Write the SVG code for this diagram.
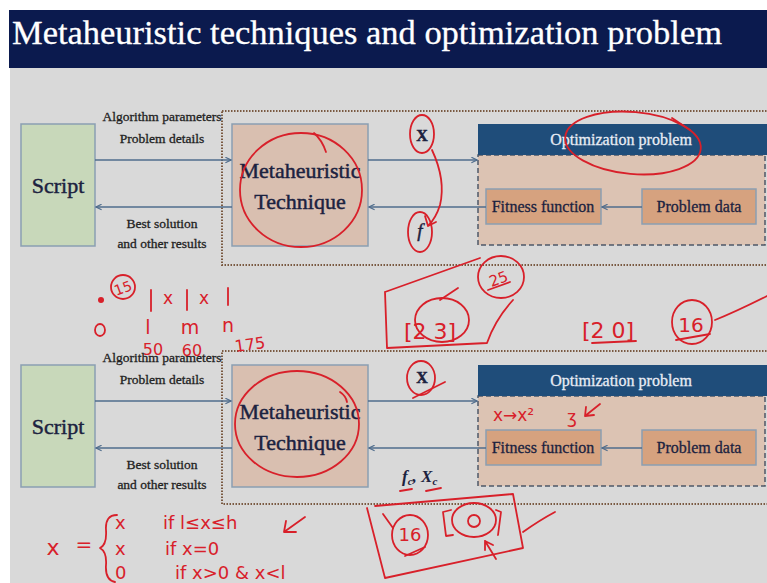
<svg xmlns="http://www.w3.org/2000/svg" width="767" height="583" viewBox="0 0 767 583">
<style>
.bg{fill:#d9d9d9}
.box{stroke:#8a9fb2;stroke-width:1.5}
.scr{fill:#c8d8ba}
.meta{fill:#d9bfb0}
.body{fill:#dcc3b3;stroke:#4e5868;stroke-width:1.5;stroke-dasharray:5 3}
.ff{fill:#d6a27f;stroke:#8a9fb2;stroke-width:1.5}
.hdr{fill:#1f4d7a}
.dot{fill:none;stroke:#7a5a42;stroke-width:2;stroke-dasharray:1.5 1.5}
.t{font-family:"Liberation Serif",serif;fill:#1c2240;text-anchor:middle;stroke:#1c2240;stroke-width:0.45}
.big{font-size:22px}
.lbl{font-size:13.5px;fill:#222;stroke:#222;stroke-width:0.3}
.mid{font-size:16px;stroke-width:0.3}
.wt{fill:#e8ecf4;stroke:#e8ecf4}
.con{stroke:#4f6c8c;stroke-width:1.6;fill:none}
.red{fill:none;stroke:#d8202a;stroke-width:1.8;stroke-linecap:round;stroke-linejoin:round}
.rt{font-family:"DejaVu Sans",sans-serif;fill:#d8202a}
</style>
<defs>
<marker id="ah" viewBox="0 0 10 10" refX="9" refY="5" markerWidth="7" markerHeight="7" orient="auto" markerUnits="userSpaceOnUse">
<path d="M1,1 L9,5 L1,9" fill="none" stroke="#4f6c8c" stroke-width="1.6"/>
</marker>
</defs>
<rect width="767" height="583" fill="#ffffff"/>
<rect class="bg" x="10" y="68" width="757" height="515"/>
<rect x="9" y="10" width="758" height="58" fill="#0b1a4e"/>
<text x="12" y="44" font-family="Liberation Serif,serif" font-size="34" fill="#ffffff" stroke="#ffffff" stroke-width="0.3" textLength="710" lengthAdjust="spacingAndGlyphs">Metaheuristic techniques and optimization problem</text>

<!-- top diagram -->
<rect class="dot" x="222" y="111" width="600" height="154"/>
<g id="script1"><rect class="box scr" x="21" y="124" width="74" height="122"/><text class="t big" x="58" y="193">Script</text></g>
<g id="meta1"><rect class="box meta" x="232" y="124" width="136" height="122"/><text class="t big" x="300" y="178">Metaheuristic</text><text class="t big" x="300" y="209">Technique</text></g>
<g id="opt1"><rect class="body" x="478" y="155" width="287" height="90"/><rect class="hdr" x="478" y="124" width="289" height="31"/><text class="t mid wt" x="621" y="145">Optimization problem</text></g>
<g id="fitness1"><rect class="ff" x="486" y="189" width="115" height="35"/><text class="t mid" x="543" y="212">Fitness function</text></g>
<g id="pdata1"><rect class="ff" x="642" y="189" width="114" height="35"/><text class="t mid" x="699" y="212">Problem data</text></g>
<g id="labels1">
<text class="t lbl" x="162" y="121">Algorithm parameters</text>
<text class="t lbl" x="162" y="143">Problem details</text>
<text class="t lbl" x="162" y="228">Best solution</text>
<text class="t lbl" x="162" y="248">and other results</text>
<text class="t" x="422" y="141" font-size="16" font-weight="bold">X</text>
<text class="t" x="420" y="237" font-size="19" font-style="italic">f</text>
</g>

<!-- bottom diagram -->
<rect class="dot" x="222" y="351" width="600" height="153"/>
<g id="script2"><rect class="box scr" x="21" y="365" width="74" height="122"/><text class="t big" x="58" y="434">Script</text></g>
<g id="meta2"><rect class="box meta" x="232" y="365" width="136" height="122"/><text class="t big" x="300" y="419">Metaheuristic</text><text class="t big" x="300" y="450">Technique</text></g>
<g id="opt2"><rect class="body" x="478" y="396" width="287" height="90"/><rect class="hdr" x="478" y="365" width="289" height="31"/><text class="t mid wt" x="621" y="386">Optimization problem</text></g>
<g id="fitness2"><rect class="ff" x="486" y="430" width="115" height="35"/><text class="t mid" x="543" y="453">Fitness function</text></g>
<g id="pdata2"><rect class="ff" x="642" y="430" width="114" height="35"/><text class="t mid" x="699" y="453">Problem data</text></g>
<g id="labels2">
<text class="t lbl" x="162" y="362">Algorithm parameters</text>
<text class="t lbl" x="162" y="384">Problem details</text>
<text class="t lbl" x="162" y="469">Best solution</text>
<text class="t lbl" x="162" y="489">and other results</text>
<text class="t" x="422" y="383" font-size="16" font-weight="bold">X</text>
<text x="402" y="482" font-family="Liberation Serif,serif" font-size="17" font-style="italic" font-weight="bold" fill="#1c2240">f<tspan font-size="11" dy="3">c</tspan><tspan dy="-3">, X</tspan><tspan font-size="11" dy="3">c</tspan></text>
</g>

<g id="connectors">
<path class="con" d="M95,160 H231" marker-end="url(#ah)"/>
<path class="con" d="M232,207 H96" marker-end="url(#ah)"/>
<path class="con" d="M368,160 H477" marker-end="url(#ah)"/>
<path class="con" d="M486,207 H369" marker-end="url(#ah)"/>
<path class="con" d="M642,207 H602" marker-end="url(#ah)"/>
<path class="con" d="M95,401 H231" marker-end="url(#ah)"/>
<path class="con" d="M232,448 H96" marker-end="url(#ah)"/>
<path class="con" d="M368,401 H477" marker-end="url(#ah)"/>
<path class="con" d="M486,448 H369" marker-end="url(#ah)"/>
<path class="con" d="M642,448 H602" marker-end="url(#ah)"/>
</g>

<g id="annotations">
<!-- top diagram circles -->
<ellipse class="red" cx="301" cy="190" rx="61" ry="57"/>
<path class="red" d="M314,133 Q322,140 326,152"/>
<ellipse class="red" cx="633" cy="143" rx="68" ry="31" transform="rotate(5 633 143)"/>
<path class="red" d="M672,118 L690,130"/>
<ellipse class="red" cx="422" cy="134" rx="12" ry="19"/>
<ellipse class="red" cx="420" cy="232" rx="12" ry="20"/>
<path class="red" d="M432,150 Q446,180 440,205 Q436,218 428,226 M428,226 L425,216 M428,226 L436,222"/>
<!-- middle notes -->
<circle class="red" cx="123" cy="287" r="12"/>
<text class="rt" x="123" y="293" font-size="14" text-anchor="middle" transform="rotate(-20 123 288)">15</text>
<circle cx="101" cy="300" r="3" fill="#d8202a"/>
<path class="red" d="M151,290 V311 M187,290 V310 M228,288 V305"/>
<text class="rt" x="168" y="304" font-size="17" text-anchor="middle">x</text>
<text class="rt" x="204" y="304" font-size="17" text-anchor="middle">x</text>
<ellipse class="red" cx="100" cy="330" rx="5" ry="6"/>
<text class="rt" font-size="19" text-anchor="middle"><tspan x="148" y="334">l</tspan><tspan x="190" y="334">m</tspan><tspan x="228" y="332">n</tspan></text>
<text class="rt" x="250" y="350" font-size="16" text-anchor="middle" transform="rotate(-8 250 345)">175</text>
<text class="rt" x="153" y="355" font-size="16" text-anchor="middle">50</text>
<text class="rt" x="192" y="356" font-size="16" text-anchor="middle">60</text>
<path class="red" d="M385,292 L480,258 M387,348 L385,292 M387,348 L487,343 Q495,320 513,300"/>
<ellipse class="red" cx="501" cy="277" rx="23" ry="21"/>
<text class="rt" x="499" y="284" font-size="15" text-anchor="middle" transform="rotate(-20 499 280)">25</text>
<path class="red" d="M488,290 L510,282"/>
<text class="rt" x="430" y="339" font-size="22" text-anchor="middle">[2 3]</text>
<ellipse class="red" cx="442" cy="320" rx="27" ry="22"/>
<path class="red" d="M440,300 L458,288"/>
<text class="rt" x="608" y="338" font-size="22" text-anchor="middle">[2 0]</text>
<path class="red" d="M592,343 L636,341"/>
<ellipse class="red" cx="692" cy="322" rx="20" ry="22"/>
<text class="rt" x="691" y="332" font-size="20" text-anchor="middle">16</text>
<path class="red" d="M676,340 L710,334 M715,320 Q735,312 767,296"/>
<!-- bottom diagram -->
<ellipse class="red" cx="297" cy="424" rx="62" ry="53"/>
<path class="red" d="M340,392 Q346,396 347,402"/>
<ellipse class="red" cx="421" cy="378" rx="14" ry="17"/>
<path class="red" d="M413,398 L445,382" stroke-width="3.5"/>
<text class="rt" x="493" y="421" font-size="17">x→x²</text>
<text class="rt" x="567" y="423" font-size="17">ʒ</text>
<path class="red" d="M600,404 L585,416 M585,416 L586,407 M585,416 L594,415"/>
<path class="red" d="M400,491 L412,489 M426,491 L441,488"/>
<path class="red" d="M375,506 L513,494 L523,548 L385,578 L367,508"/>
<ellipse class="red" cx="410" cy="535" rx="18" ry="20"/>
<text class="rt" x="410" y="541" font-size="18" text-anchor="middle">16</text>
<path class="red" d="M405,556 L425,547" stroke-width="3.5"/>
<path class="red" d="M383,514 L393,528"/>
<path class="red" d="M451,510 L443,512 L446,536 L453,535"/>
<ellipse class="red" cx="474" cy="520" rx="22" ry="17"/>
<ellipse class="red" cx="474" cy="521" rx="6" ry="6"/>
<path class="red" d="M496,510 L501,512 L498,535"/>
<path class="red" d="M496,559 L485,541 M485,541 L485,550 M485,541 L493,545"/>
<path class="red" d="M523,532 Q540,520 555,512"/>
<!-- formula -->
<text class="rt" x="53" y="555" font-size="22" text-anchor="middle">x</text>
<text class="rt" x="84" y="551" font-size="20" text-anchor="middle">=</text>
<path class="red" d="M117,515 Q105,515 106,530 Q107,545 100,548 Q107,552 106,565 Q105,580 115,582"/>
<text class="rt" font-size="18"><tspan x="115" y="529">x</tspan><tspan x="163" y="529">if l≤x≤h</tspan><tspan x="115" y="555">x</tspan><tspan x="165" y="555">if x=0</tspan><tspan x="115" y="579">0</tspan><tspan x="175" y="579">if x&gt;0 &amp; x&lt;l</tspan></text>
<path class="red" d="M305,517 L284,532 M284,532 L286,521 M284,532 L296,532"/>
</g>
</svg>
